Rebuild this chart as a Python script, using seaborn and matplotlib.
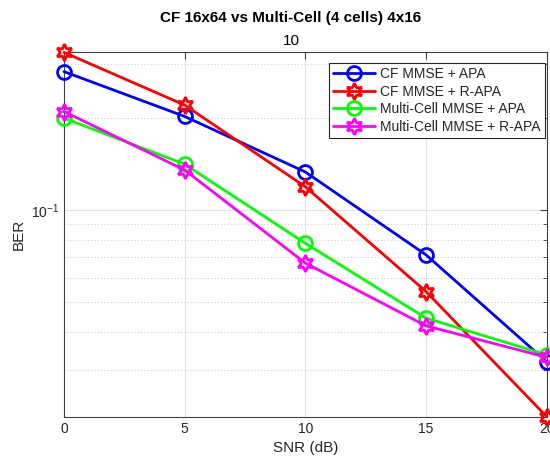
import numpy as np
import pandas as pd
import matplotlib
matplotlib.use("Agg")
import matplotlib.pyplot as plt
import seaborn as sns
from matplotlib.ticker import FixedLocator, FixedFormatter, NullFormatter

# data
snr = [0, 5, 10, 15, 20]
cf_apa = [0.283, 0.202, 0.133, 0.0713, 0.0319]
cf_rapa = [0.327, 0.220, 0.119, 0.0541, 0.0211]
mc_apa = [0.1995, 0.141, 0.0778, 0.0443, 0.0336]
mc_rapa = [0.2095, 0.135, 0.0670, 0.0418, 0.0330]

labels = ["CF MMSE + APA", "CF MMSE + R-APA",
          "Multi-Cell MMSE + APA", "Multi-Cell MMSE + R-APA"]
colors = ["#0000ff", "#ff0000", "#00ff00", "#ff00ff"]
star6 = (6, 1, 0)
markers = ["o", star6, "o", star6]
msizes = [10, 12, 10, 12]

df = pd.DataFrame({
    "SNR": snr * 4,
    "BER": cf_apa + cf_rapa + mc_apa + mc_rapa,
    "Method": np.repeat(labels, len(snr)),
})

sns.set_style("white")
plt.rcParams["font.family"] = ["Liberation Sans", "DejaVu Sans"]
plt.rcParams["mathtext.fontset"] = "custom"
plt.rcParams["mathtext.rm"] = "Liberation Sans"
plt.rcParams["mathtext.it"] = "Liberation Sans:italic"

fig = plt.figure(figsize=(5.5, 4.62), dpi=100)
ax = fig.add_axes([64 / 550, 1 - 416.7 / 462, 482.7 / 550, 364.7 / 462])

for lab, col, mk, ms in zip(labels, colors, markers, msizes):
    sub = df[df["Method"] == lab]
    sns.lineplot(data=sub, x="SNR", y="BER", ax=ax, color=col, marker=mk,
                 markersize=ms, markeredgecolor=col, markerfacecolor="none",
                 markeredgewidth=2, linewidth=2, label=lab)

for ln in ax.lines:
    ln.set_clip_on(False)
    ln.set_zorder(5)

ax.set_yscale("log")
ax.set_xlim(0, 20)
ax.set_ylim(0.0211, 0.328)
ax.set_xticks([0, 5, 10, 15, 20])
ax.yaxis.set_major_locator(FixedLocator([0.1]))
ax.yaxis.set_major_formatter(FixedFormatter(["$10^{-1}$"]))
ax.yaxis.set_minor_locator(FixedLocator([0.03, 0.04, 0.05, 0.06, 0.07, 0.08, 0.09, 0.2, 0.3]))
ax.yaxis.set_minor_formatter(NullFormatter())

ax.grid(True, which="major", color="#e3e3e3", linewidth=0.8, linestyle="-")
ax.grid(True, which="minor", axis="y", color="#d0d0d0", linewidth=0.8, linestyle=(0, (1, 2)))
ax.set_axisbelow(True)

for sp in ax.spines.values():
    sp.set_visible(True)
    sp.set_color("#404040")
    sp.set_linewidth(0.8)
ax.tick_params(which="both", direction="in", top=True, right=True,
               colors="#404040", labelcolor="#262626", labelsize=10)
ax.tick_params(which="major", length=5)
ax.tick_params(which="minor", length=3)

ax.set_xlabel("SNR (dB)", fontsize=11, color="#262626")
ax.set_ylabel("BER", fontsize=11, color="#262626")

leg = ax.legend(loc="upper right", bbox_to_anchor=(0.9965, 0.970), borderaxespad=0,
                fontsize=10, frameon=True, fancybox=False, framealpha=1,
                edgecolor="#262626", handlelength=3.0, labelspacing=0.25,
                borderpad=0.3, handletextpad=0.4)
leg.get_frame().set_linewidth(0.8)

fig.text(0.529, 1 - 18 / 462, "CF 16x64 vs Multi-Cell (4 cells) 4x16",
         ha="center", va="center", fontsize=11, fontweight="bold", color="#000000")
fig.text(0.529, 1 - 41 / 462, "10", ha="center", va="center", fontsize=11, color="#000000")

fig.savefig("out.png", dpi=100)
